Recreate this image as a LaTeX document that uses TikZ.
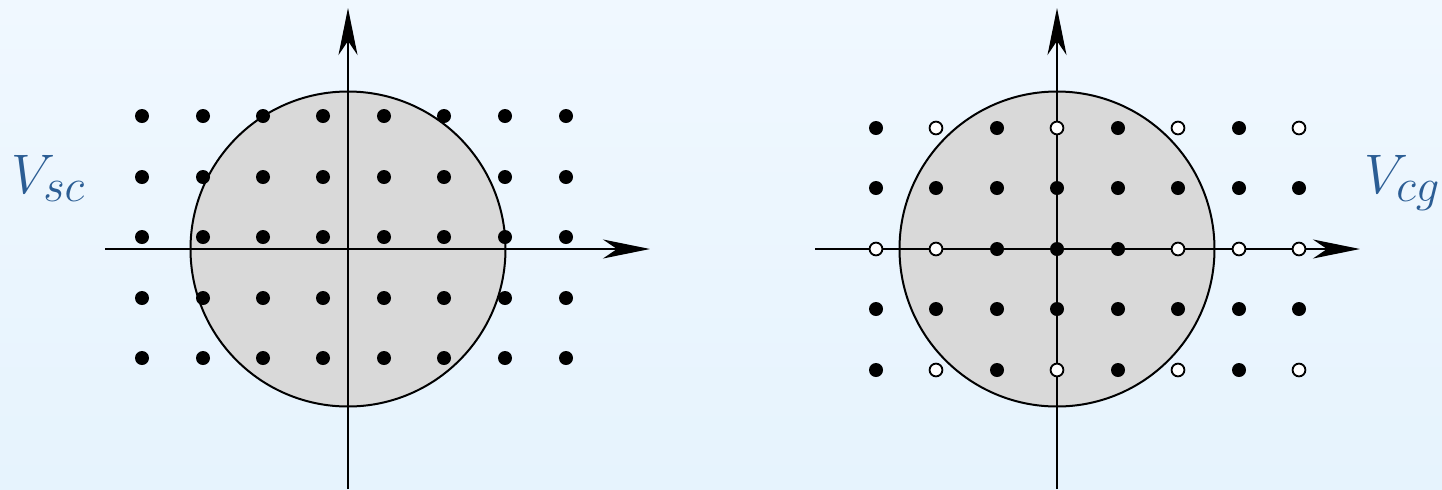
\documentclass[tikz,border=0pt]{standalone}
\usetikzlibrary{arrows.meta}
\definecolor{bgtop}{HTML}{F0F8FF}
\definecolor{bgbot}{HTML}{E6F3FD}
\definecolor{labblue}{HTML}{2B5D94}
\definecolor{discgray}{HTML}{D9D9D9}
\begin{document}
\begin{tikzpicture}[x=0.5pt,y=-0.5pt,
  axis/.style={line width=1pt,-{Stealth[length=23.5pt,width=9.5pt,inset=7pt]}},
  disc/.style={fill=discgray,draw=black,line width=1pt},
  fdot/.style={fill=black},
  odot/.style={fill=white,draw=black,line width=0.9pt},
  lbl/.style={text=labblue,inner sep=0pt,anchor=base west,font=\Huge,scale=1.12}]
% background
\shade[top color=bgtop,bottom color=bgbot] (0,0) rectangle (1442,489);
\useasboundingbox (0,0) rectangle (1442,489);

% ---------- left panel ----------
\coordinate (L0) at (348,249);
\coordinate (LxS) at (105,249);
\coordinate (LxE) at (650,249);
\coordinate (LyS) at (348,489);
\coordinate (LyE) at (348,8);
\draw[disc] (L0) circle [radius=78.75pt];
\draw[axis] (LxS) -- (LxE);
\draw[axis] (LyS) -- (LyE);
\foreach \x in {142,203,263,323,384,444,505,566}
  \foreach \y in {116,177,237,298,358}
    \fill[fdot] (\x,\y) circle [radius=3.5pt];
\node[lbl] (Vsc) at (11,193) {$V_{sc}$};

% ---------- right panel ----------
\coordinate (R0) at (1057,249);
\coordinate (RxS) at (815,249);
\coordinate (RxE) at (1360,249);
\coordinate (RyS) at (1057,489);
\coordinate (RyE) at (1057,8);
\draw[disc] (R0) circle [radius=78.75pt];
\draw[axis] (RxS) -- (RxE);
\draw[axis] (RyS) -- (RyE);
% filled points
\foreach \x in {876,997,1118,1239}
  \foreach \y in {128,370}
    \fill[fdot] (\x,\y) circle [radius=3.5pt];
\foreach \x in {876,936,997,1057,1118,1178,1239,1299}
  \foreach \y in {188,309}
    \fill[fdot] (\x,\y) circle [radius=3.5pt];
\foreach \x in {997,1057,1118}
  \fill[fdot] (\x,249) circle [radius=3.5pt];
% open points
\foreach \x in {936,1057,1178,1299}
  \foreach \y in {128,370}
    \draw[odot] (\x,\y) circle [radius=3.2pt];
\foreach \x in {876,936,1178,1239,1299}
  \draw[odot] (\x,249) circle [radius=3.2pt];
\node[lbl] (Vcg) at (1364,193) {$V_{cg}$};
\end{tikzpicture}
\end{document}
